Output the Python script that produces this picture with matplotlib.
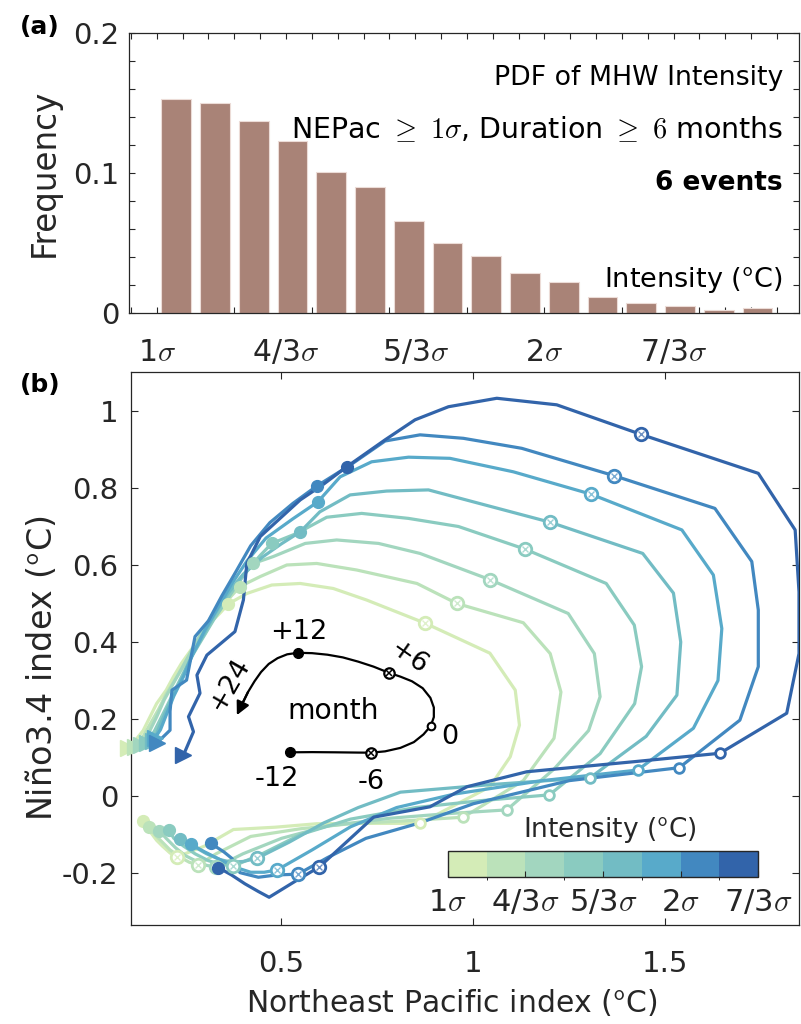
import numpy as np
import matplotlib
matplotlib.use("Agg")
import matplotlib.pyplot as plt
from matplotlib.colors import ListedColormap, BoundaryNorm
from matplotlib.cm import ScalarMappable

plt.rcParams['font.family'] = ['DejaVu Sans']
plt.rcParams['mathtext.fontset'] = 'cm'
plt.rcParams['axes.unicode_minus'] = False

# ---------------- data: panel (a) ----------------
bin_centers = [1.05, 1.15, 1.25, 1.35, 1.45, 1.55, 1.65, 1.75, 1.85, 1.95,
               2.05, 2.15, 2.25, 2.35, 2.45, 2.55]          # in units of sigma
frequency = [0.153, 0.150, 0.137, 0.1226, 0.101, 0.0898, 0.066, 0.050,
             0.041, 0.0286, 0.0224, 0.0119, 0.0076, 0.0055, 0.0021, 0.0036]
sigma_ticks = [1, 4/3, 5/3, 2, 7/3]
sigma_labels = [r'1$\sigma$', r'4/3$\sigma$', r'5/3$\sigma$', r'2$\sigma$', r'7/3$\sigma$']

# ---------------- data: panel (b) ----------------
months = list(range(-12, 25))
intensity_colors = ['#d4ecb7', '#bbe2ba', '#a2d6bf', '#8acbc0',
                    '#72bcc4', '#58aaca', '#4288c0', '#3264aa']

nep_c1 = [0.139, 0.15, 0.16, 0.175, 0.19, 0.21, 0.228,
          0.30, 0.375, 0.484, 0.592, 0.73, 0.861,
          1.043, 1.096, 1.12, 1.109, 1.043, 0.874,
          0.722, 0.635, 0.549, 0.475, 0.41, 0.362,
          0.34, 0.31, 0.288, 0.265, 0.24, 0.219, 0.20, 0.175, 0.155, 0.14, 0.12, 0.10]
nino_c1 = [-0.064, -0.08, -0.095, -0.115, -0.13, -0.148, -0.158,
           -0.13, -0.087, -0.081, -0.072, -0.071, -0.071,
           0.024, 0.102, 0.184, 0.275, 0.371, 0.449,
           0.509, 0.539, 0.552, 0.548, 0.526, 0.499,
           0.475, 0.445, 0.41, 0.38, 0.345, 0.31, 0.275, 0.24, 0.20, 0.17, 0.145, 0.125]

nep_c2 = [0.156, 0.17, 0.19, 0.21, 0.235, 0.26, 0.284,
          0.33, 0.42, 0.55, 0.68, 0.83, 0.974,
          1.13, 1.21, 1.228, 1.20, 1.13, 0.957,
          0.853, 0.696, 0.592, 0.514, 0.445, 0.392,
          0.37, 0.345, 0.32, 0.30, 0.275, 0.25, 0.225, 0.20, 0.18, 0.16, 0.14, 0.12]
nino_c2 = [-0.081, -0.1, -0.12, -0.14, -0.158, -0.172, -0.179,
           -0.15, -0.105, -0.085, -0.072, -0.064, -0.055,
           0.04, 0.15, 0.27, 0.37, 0.45, 0.50,
           0.552, 0.587, 0.604, 0.60, 0.57, 0.544,
           0.52, 0.49, 0.455, 0.42, 0.385, 0.345, 0.305, 0.265, 0.225, 0.19, 0.155, 0.128]

nep_c3 = [0.182, 0.2, 0.225, 0.25, 0.28, 0.305, 0.33,
          0.40, 0.50, 0.62, 0.78, 0.93, 1.087,
          1.21, 1.30, 1.33, 1.315, 1.247, 1.043,
          0.861, 0.753, 0.644, 0.562, 0.479, 0.427,
          0.40, 0.37, 0.345, 0.32, 0.295, 0.27, 0.245, 0.22, 0.195, 0.175, 0.155, 0.135]
nino_c3 = [-0.09, -0.11, -0.135, -0.155, -0.17, -0.18, -0.185,
           -0.15, -0.11, -0.078, -0.058, -0.046, -0.036,
           0.07, 0.17, 0.258, 0.37, 0.474, 0.562,
           0.63, 0.656, 0.665, 0.656, 0.622, 0.604,
           0.575, 0.54, 0.505, 0.47, 0.43, 0.385, 0.34, 0.295, 0.25, 0.205, 0.165, 0.132]

nep_c4 = [0.206, 0.22, 0.245, 0.275, 0.31, 0.345, 0.375,
          0.45, 0.55, 0.68, 0.85, 1.02, 1.198,
          1.33, 1.42, 1.438, 1.419, 1.346, 1.135,
          0.961, 0.831, 0.709, 0.618, 0.54, 0.475,
          0.445, 0.415, 0.385, 0.355, 0.325, 0.295, 0.265, 0.24, 0.215, 0.19, 0.17, 0.15]
nino_c4 = [-0.087, -0.11, -0.13, -0.15, -0.168, -0.178, -0.182,
           -0.15, -0.1, -0.06, -0.03, -0.012, 0.003,
           0.11, 0.24, 0.336, 0.444, 0.552, 0.641,
           0.70, 0.721, 0.734, 0.724, 0.682, 0.656,
           0.625, 0.59, 0.55, 0.505, 0.46, 0.41, 0.36, 0.31, 0.26, 0.21, 0.17, 0.137]

nep_c5 = [0.236, 0.27, 0.305, 0.34, 0.37, 0.40, 0.436,
          0.52, 0.61, 0.70, 0.81, 1.05, 1.304,
          1.45, 1.53, 1.54, 1.521, 1.441, 1.20,
          1.03, 0.883, 0.774, 0.679, 0.60, 0.549,
          0.50, 0.45, 0.40, 0.36, 0.325, 0.295, 0.265, 0.24, 0.215, 0.195, 0.178, 0.165]
nino_c5 = [-0.112, -0.13, -0.15, -0.165, -0.172, -0.17, -0.162,
           -0.12, -0.07, -0.03, 0.01, 0.03, 0.0476,
           0.155, 0.262, 0.40, 0.527, 0.63, 0.711,
           0.756, 0.795, 0.792, 0.782, 0.738, 0.686,
           0.655, 0.62, 0.575, 0.525, 0.47, 0.415, 0.36, 0.305, 0.255, 0.21, 0.17, 0.142]

nep_c6 = [0.264, 0.30, 0.34, 0.38, 0.42, 0.455, 0.489,
          0.58, 0.68, 0.80, 0.95, 1.18, 1.428,
          1.573, 1.637, 1.647, 1.625, 1.543, 1.306,
          1.104, 0.939, 0.831, 0.735, 0.653, 0.595,
          0.53, 0.46, 0.41, 0.37, 0.335, 0.30, 0.27, 0.245, 0.22, 0.20, 0.185, 0.17]
nino_c6 = [-0.125, -0.145, -0.165, -0.185, -0.198, -0.198, -0.192,
           -0.14, -0.08, -0.03, 0.005, 0.04, 0.0675,
           0.176, 0.30, 0.435, 0.574, 0.691, 0.784,
           0.842, 0.877, 0.88, 0.868, 0.829, 0.764,
           0.72, 0.67, 0.61, 0.55, 0.49, 0.43, 0.37, 0.31, 0.26, 0.21, 0.172, 0.15]

nep_c7 = [0.316, 0.35, 0.371, 0.392, 0.44, 0.488, 0.543,
          0.62, 0.72, 0.86, 1.0, 1.25, 1.536,
          1.694, 1.742, 1.742, 1.725, 1.629, 1.366,
          1.126, 0.974, 0.861, 0.77, 0.68, 0.592,
          0.53, 0.47, 0.42, 0.38, 0.345, 0.31, 0.275, 0.253, 0.215, 0.21, 0.21, 0.175]
nino_c7 = [-0.123, -0.145, -0.162, -0.199, -0.211, -0.205, -0.203,
           -0.16, -0.11, -0.07, -0.02, 0.04, 0.0735,
           0.197, 0.336, 0.483, 0.609, 0.747, 0.832,
           0.903, 0.929, 0.938, 0.922, 0.86, 0.805,
           0.76, 0.71, 0.65, 0.58, 0.52, 0.455, 0.414, 0.301, 0.275, 0.22, 0.171, 0.137]

nep_c8 = [0.336, 0.37, 0.405, 0.44, 0.468, 0.535, 0.599,
          0.74, 0.887, 0.983, 1.139, 1.417, 1.642,
          1.816, 1.848, 1.848, 1.838, 1.742, 1.437,
          1.217, 1.061, 0.935, 0.848, 0.77, 0.670,
          0.61, 0.549, 0.445, 0.41, 0.401, 0.379, 0.306, 0.28, 0.288, 0.258, 0.271, 0.245]
nino_c8 = [-0.186, -0.205, -0.228, -0.248, -0.263, -0.222, -0.184,
           -0.055, -0.028, 0.024, 0.063, 0.089, 0.111,
           0.215, 0.37, 0.53, 0.691, 0.838, 0.939,
           1.016, 1.033, 1.011, 0.977, 0.925, 0.855,
           0.81, 0.769, 0.674, 0.604, 0.509, 0.427, 0.366, 0.314, 0.267, 0.206, 0.167, 0.1065]

nep_curves = [nep_c1, nep_c2, nep_c3, nep_c4, nep_c5, nep_c6, nep_c7, nep_c8]
nino_curves = [nino_c1, nino_c2, nino_c3, nino_c4, nino_c5, nino_c6, nino_c7, nino_c8]

# schematic "month" key (smooth path drawn as a fine polyline)
key_x = [0.523, 0.58, 0.64, 0.70, 0.733, 0.77, 0.81, 0.845, 0.87, 0.889,
         0.897, 0.897, 0.888, 0.868, 0.84, 0.81, 0.78, 0.74, 0.70, 0.66,
         0.62, 0.58, 0.543, 0.515, 0.49, 0.467, 0.447, 0.43, 0.413, 0.398, 0.384]
key_y = [0.1135, 0.114, 0.1135, 0.1128, 0.1125, 0.116, 0.125, 0.14, 0.16, 0.182,
         0.205, 0.23, 0.255, 0.28, 0.298, 0.31, 0.32, 0.336, 0.349, 0.36,
         0.367, 0.371, 0.372, 0.368, 0.358, 0.343, 0.322, 0.298, 0.27, 0.24, 0.21]
key_marks = {0: -12, 4: -6, 9: 0, 16: 6, 22: 12}

cbar_tick_pos = [0, 2, 4, 6, 8]

# ---------------- figure ----------------
W, H = 801, 1024
fig = plt.figure(figsize=(W / 100, H / 100), dpi=100)
dark = '#262626'

def fx(px):
    return px / W

def fy(py):
    return 1 - py / H

# ---- panel (a)
ax1 = fig.add_axes([fx(129.3), fy(313.3), fx(799) - fx(129.3), fy(32.7) - fy(313.3)])
ax1.bar(bin_centers, frequency, width=0.077, color='#a98377',
        edgecolor='#ecdcd7', linewidth=0.8, zorder=2)
ax1.set_xlim(0.929, 2.657)
ax1.set_ylim(0, 0.2)
ax1.set_axisbelow(True)
ax1.set_xticks(sigma_ticks)
ax1.set_xticklabels(sigma_labels)
ax1.set_xticks(np.arange(14, 40) / 15, minor=True)
ax1.set_yticks([0, 0.1, 0.2])
ax1.set_yticklabels(['0', '0.1', '0.2'])
ax1.set_yticks(np.arange(0, 0.201, 0.02), minor=True)
ax1.tick_params(which='both', direction='in', top=True, right=True,
                length=4.5, width=0.8, color=dark)
ax1.tick_params(axis='x', which='major', pad=18, labelsize=21.5, labelcolor=dark)
ax1.tick_params(axis='y', which='major', pad=7, labelsize=21, labelcolor=dark)
for s in ax1.spines.values():
    s.set_color(dark)
    s.set_linewidth(0.9)

xr = 2.616
ax1.text(xr, 0.168, 'PDF of MHW Intensity', ha='right', va='center', fontsize=19.3)
ax1.text(xr, 0.131, r'NEPac $\geq\ 1\sigma$, Duration $\geq\ 6$ months', ha='right',
         va='center', fontsize=20.5)
ax1.text(xr, 0.093, '6 events', ha='right', va='center', fontsize=19, fontweight='bold')
ax1.text(xr, 0.024, r'Intensity ($^{\mathsf{o}}$C)', ha='right', va='center', fontsize=19.5)
fig.text(fx(44), fy(173), 'Frequency', rotation=90, ha='center', va='center',
         fontsize=23.5, color=dark)
fig.text(fx(40), fy(27), '(a)', ha='center', va='center', fontsize=18, fontweight='bold')

# ---- panel (b)
ax2 = fig.add_axes([fx(130.5), fy(925), fx(799) - fx(130.5), fy(371.7) - fy(925)])
ax2.set_xlim(0.107, 1.848)
ax2.set_ylim(-0.335, 1.102)

for i in range(8):
    xs, ys, col = nep_curves[i], nino_curves[i], intensity_colors[i]
    ax2.plot(xs, ys, color=col, lw=2.3, zorder=3 + i * 0.1)
    z = 4 + i * 0.1
    for m, x, y in zip(months, xs, ys):
        if m in (-12, 12):
            ax2.plot(x, y, 'o', color=col, ms=8.5, zorder=z, clip_on=False)
        elif m in (-6, 6):
            ax2.plot(x, y, 'o', mfc='white', mec=col, mew=2, ms=9, zorder=z)
            ax2.plot(x, y, 'x', color=col, ms=5, mew=1, alpha=0.7, zorder=z)
        elif m == 0:
            ax2.plot(x, y, 'o', mfc='white', mec=col, mew=2, ms=7, zorder=z)
        elif m == 24:
            ax2.plot(x, y, '>', color=col, ms=11, zorder=z, clip_on=False)

# key schematic
ax2.plot(key_x[:-1], key_y[:-1], color='black', lw=1.6, zorder=6,
         solid_joinstyle='round')
ax2.annotate('', xy=(key_x[-1], key_y[-1]), xytext=(key_x[-3], key_y[-3]),
             arrowprops=dict(arrowstyle='-|>', color='black', lw=1.6,
                             mutation_scale=20, shrinkA=0, shrinkB=0), zorder=6)
for idx, m in key_marks.items():
    x, y = key_x[idx], key_y[idx]
    if m in (-12, 12):
        ax2.plot(x, y, 'o', color='black', ms=7, zorder=7)
    elif m in (-6, 6):
        ax2.plot(x, y, 'o', mfc='white', mec='black', mew=1.6, ms=7.5, zorder=7)
        ax2.plot(x, y, 'x', color='black', ms=4.5, mew=1.1, zorder=7)
    elif m == 0:
        ax2.plot(x, y, 'o', mfc='white', mec='black', mew=1.5, ms=5.5, zorder=7)

kfs = 19.5
ax2.text(0.546, 0.427, '+12', ha='center', va='center', fontsize=kfs)
ax2.text(0.831, 0.358, '+6', ha='center', va='center', fontsize=kfs, rotation=-35)
ax2.text(0.938, 0.152, '0', ha='center', va='center', fontsize=kfs)
ax2.text(0.488, 0.044, '-12', ha='center', va='center', fontsize=kfs)
ax2.text(0.735, 0.037, '-6', ha='center', va='center', fontsize=kfs)
ax2.text(0.365, 0.288, '+24', ha='center', va='center', fontsize=kfs, rotation=60)
ax2.text(0.635, 0.222, 'month', ha='center', va='center', fontsize=20.3)

ax2.set_xticks([0.5, 1, 1.5])
ax2.set_xticklabels(['0.5', '1', '1.5'])
ax2.set_yticks([-0.2, 0, 0.2, 0.4, 0.6, 0.8, 1])
ax2.set_yticklabels(['-0.2', '0', '0.2', '0.4', '0.6', '0.8', '1'])
ax2.tick_params(which='both', direction='in', top=True, right=True,
                length=5, width=0.8, color=dark)
ax2.tick_params(axis='x', pad=18, labelsize=21, labelcolor=dark)
ax2.tick_params(axis='y', pad=9, labelsize=21, labelcolor=dark)
for s in ax2.spines.values():
    s.set_color(dark)
    s.set_linewidth(0.9)
fig.text(fx(452), fy(1003), r'Northeast Pacific index ($^{\mathsf{o}}$C)', ha='center',
         va='center', fontsize=21.5, color=dark)
fig.text(fx(42), fy(668), r'Niño3.4 index ($^{\mathsf{o}}$C)', rotation=90, ha='center',
         va='center', fontsize=24, color=dark)
fig.text(fx(40), fy(385), '(b)', ha='center', va='center', fontsize=18, fontweight='bold')

# ---- colorbar
cax = fig.add_axes([fx(447.7), fy(876.7), fx(758.3) - fx(447.7), fy(850.7) - fy(876.7)])
cmap = ListedColormap(intensity_colors)
norm = BoundaryNorm(np.arange(9), 8)
sm = ScalarMappable(norm=norm, cmap=cmap)
cb = fig.colorbar(sm, cax=cax, orientation='horizontal', ticks=cbar_tick_pos)
cb.ax.set_xticklabels(sigma_labels)
cb.ax.tick_params(direction='in', length=4, width=0.8, color=dark, labelsize=22,
                  pad=8, labelcolor=dark)
cb.outline.set_edgecolor(dark)
cb.outline.set_linewidth(1.0)
fig.text(fx(610), fy(830), r'Intensity ($^{\mathsf{o}}$C)', ha='center', va='center',
         fontsize=19, color=dark)

fig.savefig('out.png', dpi=100)
